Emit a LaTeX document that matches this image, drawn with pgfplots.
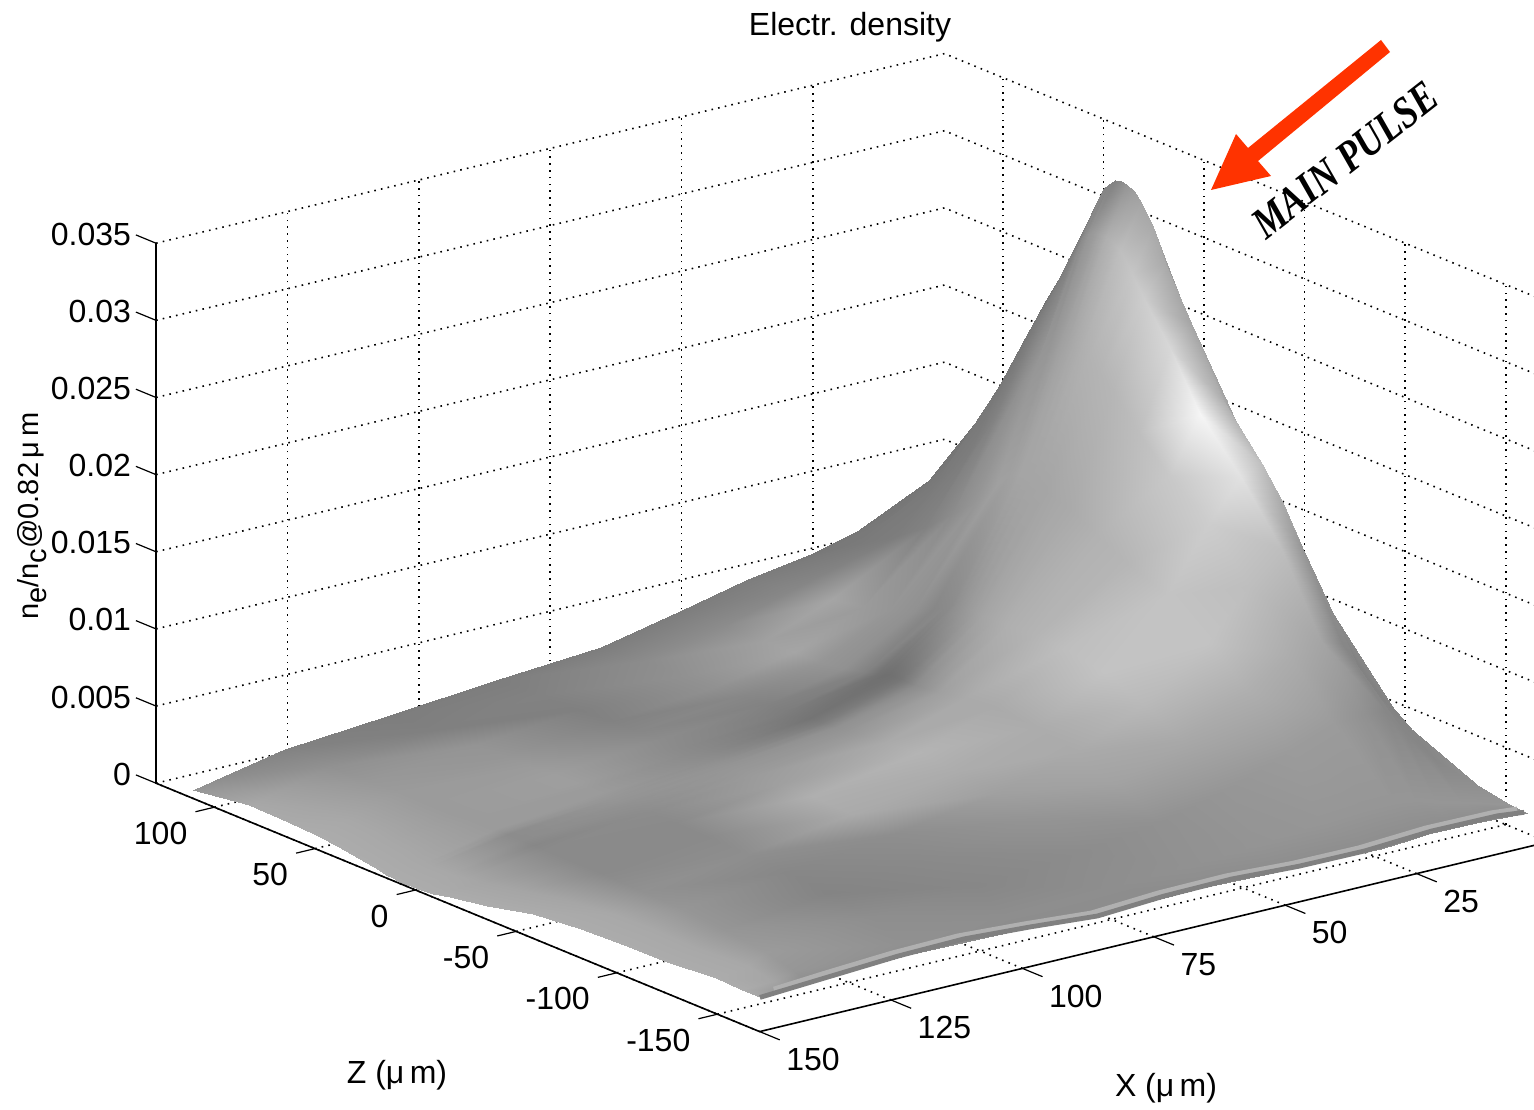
\documentclass[border=0pt]{standalone}
\usepackage{pgfplots}
\pgfplotsset{compat=1.18}
\usepackage{fontspec}
\setmainfont{Liberation Sans}
\newfontfamily\timesbi[BoldItalicFont={Liberation Serif Bold Italic}]{Liberation Serif}
\definecolor{rimdark}{gray}{0.50}
\definecolor{rimlight}{gray}{0.69}
\definecolor{pulse}{HTML}{FF3300}
\newcommand{\lbl}{\fontsize{16}{18}\selectfont}
\begin{document}
\begin{tikzpicture}
\path[use as bounding box,clip] (0,0) rectangle (767pt,554.5pt);
\begin{axis}[
  at={(602pt,204.3pt)},anchor=origin,
  y={(-2.628pt,-0.632pt)},x={(-1.006pt,0.414pt)},z={(0pt,7714pt)},
  ymin=0,ymax=150,xmin=-171,xmax=129,zmin=0,zmax=0.035,
  clip=false,
  axis line style={draw=none},
  grid=major,
  grid style={black,line width=0.8pt,dash pattern=on 0.8pt off 2.6pt},
  ytick={25,50,75,100,125,150},
  xtick={-150,-100,-50,0,50,100},
  ztick={0,0.005,0.01,0.015,0.02,0.025,0.03,0.035},
  zticklabels={0,0.005,0.01,0.015,0.02,0.025,0.03,0.035},
  yticklabels={25,50,75,100,125,150},
  xticklabels={-150,-100,-50,0,50,100},
  scaled z ticks=false,
  tick pos=lower,
  tick align=outside,
  major tick length=0pt,
  tick style={draw=none},
  /pgf/number format/assume math mode=true,
  tick label style={font=\lbl},
  xticklabel style={anchor=east,yshift=-13pt,xshift=-10pt},
  yticklabel style={anchor=west,yshift=-13.8pt,xshift=9.8pt},
  zticklabel style={anchor=east,yshift=4.5pt,xshift=-9pt},
  colormap={gs}{gray(0cm)=(0); gray(1cm)=(1)},
  point meta min=0,point meta max=255,
]
\addplot3[surf,shader=interp,z buffer=none,mesh/rows=24,mesh/cols=15,point meta=explicit]
 table[row sep=\\,x index=1,y index=0,z index=2,meta index=3]{
-6 117 0.0055 120\\3 117 0.0065 120\\8 117 0.0070 118\\12 117 0.0072 115\\16 117 0.0070 115\\22 117 0.0063 118\\30 117 0.0057 120\\42 117 0.0050 125\\55 117 0.0040 125\\70 117 0.0029 125\\90 117 0.0024 125\\110 117 0.0018 125\\130 117 0.0012 130\\141.6 117 0.0004 140\\147.6 117 0 150\\
-6 95 0.0065 140\\3 95 0.0090 150\\8 95 0.0105 130\\12 95 0.0113 115\\16 95 0.0105 118\\22 95 0.0090 120\\30 95 0.0075 122\\42 95 0.0055 135\\55 95 0.0042 140\\70 95 0.0032 140\\90 95 0.0026 130\\110 95 0.0020 128\\130 95 0.0013 145\\139.3 95 0.0005 160\\145.3 95 0 168\\
-6 75 0.0080 150\\3 75 0.0130 160\\8 75 0.0153 135\\12 75 0.0162 115\\16 75 0.0140 120\\22 75 0.0120 122\\30 75 0.0090 125\\42 75 0.0060 165\\55 75 0.0043 160\\70 75 0.0033 145\\90 75 0.0027 128\\110 75 0.0021 148\\130 75 0.0014 152\\139.6 75 0.0005 165\\145.6 75 0 170\\
-6 60 0.0095 160\\3 60 0.0150 165\\8 60 0.0188 150\\12 60 0.0206 115\\16 60 0.0185 120\\22 60 0.0145 125\\30 60 0.0105 130\\42 60 0.0063 155\\55 60 0.0044 165\\70 60 0.0034 145\\90 60 0.0028 130\\110 60 0.0022 150\\130 60 0.0015 155\\140 60 0.0005 168\\146 60 0 172\\
-6 47 0.0110 165\\3 47 0.0180 170\\8 47 0.0225 160\\12 47 0.0244 115\\16 47 0.0223 120\\22 47 0.0175 130\\30 47 0.0120 140\\42 47 0.0068 150\\55 47 0.0045 150\\70 47 0.0035 135\\90 47 0.0029 135\\110 47 0.0022 155\\130 47 0.0015 155\\140.5 47 0.0005 168\\146.5 47 0 172\\
-6 35 0.0125 170\\3 35 0.0215 175\\8 35 0.0260 170\\12 35 0.0278 120\\16 35 0.0255 125\\22 35 0.0200 145\\30 35 0.0135 150\\42 35 0.0073 145\\55 35 0.0047 145\\70 35 0.0036 130\\90 35 0.0030 140\\110 35 0.0023 158\\130 35 0.0015 155\\141.5 35 0.0005 168\\147.5 35 0 172\\
-6 25 0.0140 170\\3 25 0.0245 180\\8 25 0.0293 165\\12 25 0.0312 125\\16 25 0.0285 128\\22 25 0.0225 150\\30 25 0.0150 160\\42 25 0.0080 135\\55 25 0.0050 130\\70 25 0.0037 125\\90 25 0.0030 138\\110 25 0.0023 158\\130 25 0.0016 155\\142.3 25 0.0005 168\\148.3 25 0 172\\
-6 19 0.0150 170\\3 19 0.0260 185\\8 19 0.0310 150\\12 19 0.0331 135\\16 19 0.0302 140\\22 19 0.0238 150\\30 19 0.0160 160\\42 19 0.0085 138\\55 19 0.0052 115\\70 19 0.0038 120\\90 19 0.0030 138\\110 19 0.0023 155\\130 19 0.0016 155\\143 19 0.0005 168\\149 19 0 172\\
-6 16 0.0152 175\\3 16 0.0265 187\\8 16 0.0316 152\\12 16 0.0336 132\\16 16 0.0306 150\\22 16 0.0241 155\\30 16 0.0162 162\\42 16 0.0087 140\\55 16 0.0053 112\\70 16 0.0038 118\\90 16 0.0030 139\\110 16 0.0023 155\\130 16 0.0016 155\\143.2 16 0.0005 168\\149.2 16 0 172\\
-6 13 0.0155 180\\3 13 0.0270 190\\8 13 0.0323 155\\12 13 0.0340 130\\16 13 0.0310 155\\22 13 0.0245 160\\30 13 0.0165 165\\42 13 0.0090 145\\55 13 0.0055 112\\70 13 0.0039 116\\90 13 0.0030 140\\110 13 0.0023 155\\130 13 0.0016 155\\143.4 13 0.0005 168\\149.4 13 0 172\\
-6 10 0.0155 180\\3 10 0.0270 190\\8 10 0.0320 158\\12 10 0.0341 138\\16 10 0.0310 165\\22 10 0.0245 165\\30 10 0.0165 165\\42 10 0.0090 150\\55 10 0.0055 114\\70 10 0.0039 120\\90 10 0.0030 142\\110 10 0.0023 152\\130 10 0.0016 148\\143.5 10 0.0005 168\\149.5 10 0 172\\
-6 7 0.0155 180\\3 7 0.0270 190\\8 7 0.0316 160\\12 7 0.0340 150\\16 7 0.0310 175\\22 7 0.0245 170\\30 7 0.0165 165\\42 7 0.0090 155\\55 7 0.0055 118\\70 7 0.0039 126\\90 7 0.0030 145\\110 7 0.0023 150\\130 7 0.0016 140\\143.5 7 0.0005 168\\149.5 7 0 172\\
-6 3.5 0.0152 180\\3 3.5 0.0260 180\\8 3.5 0.0307 155\\12 3.5 0.0338 158\\16 3.5 0.0308 182\\22 3.5 0.0243 175\\30 3.5 0.0163 165\\42 3.5 0.0090 160\\55 3.5 0.0055 128\\70 3.5 0.0040 134\\90 3.5 0.0030 148\\110 3.5 0.0023 148\\130 3.5 0.0016 140\\143.5 3.5 0.0005 168\\149.5 3.5 0 172\\
-6 0 0.0150 180\\3 0 0.0250 170\\8 0 0.0298 150\\12 0 0.0333 165\\16 0 0.0305 190\\22 0 0.0240 178\\30 0 0.0160 165\\42 0 0.0090 165\\55 0 0.0055 140\\70 0 0.0040 145\\90 0 0.0030 150\\110 0 0.0023 145\\130 0 0.0016 140\\143.5 0 0.0005 168\\149.5 0 0 172\\
-6 -6 0.0148 165\\3 -6 0.0233 160\\8 -6 0.0280 145\\12 -6 0.0320 170\\16 -6 0.0293 198\\22 -6 0.0233 180\\30 -6 0.0158 168\\42 -6 0.0090 170\\55 -6 0.0056 150\\70 -6 0.0041 150\\90 -6 0.0031 152\\110 -6 0.0023 142\\130 -6 0.0016 135\\143 -6 0.0005 167\\149 -6 0 172\\
-6 -12 0.0145 150\\3 -12 0.0215 150\\8 -12 0.0263 140\\12 -12 0.0300 170\\16 -12 0.0280 205\\22 -12 0.0225 182\\30 -12 0.0155 170\\42 -12 0.0090 175\\55 -12 0.0057 160\\70 -12 0.0042 155\\90 -12 0.0032 155\\110 -12 0.0024 140\\130 -12 0.0016 138\\142 -12 0.0005 165\\148 -12 0 172\\
-6 -25 0.0125 130\\3 -25 0.0190 150\\8 -25 0.0228 150\\12 -25 0.0268 165\\16 -25 0.0255 215\\22 -25 0.0205 190\\30 -25 0.0145 178\\42 -25 0.0090 180\\55 -25 0.0060 170\\70 -25 0.0044 170\\90 -25 0.0033 160\\110 -25 0.0024 138\\130 -25 0.0016 138\\140 -25 0.0005 165\\146 -25 0 172\\
-6 -40 0.0085 130\\3 -40 0.0165 130\\8 -40 0.0200 160\\12 -40 0.0228 175\\16 -40 0.0220 245\\22 -40 0.0185 200\\30 -40 0.0135 182\\42 -40 0.0090 190\\55 -40 0.0062 170\\70 -40 0.0045 180\\90 -40 0.0033 175\\110 -40 0.0024 138\\130 -40 0.0016 138\\137 -40 0.0005 165\\143 -40 0 172\\
-6 -60 0.0048 125\\3 -60 0.0115 140\\8 -60 0.0167 170\\12 -60 0.0195 190\\16 -60 0.0190 225\\22 -60 0.0165 205\\30 -60 0.0125 195\\42 -60 0.0085 195\\55 -60 0.0060 172\\70 -60 0.0044 172\\90 -60 0.0032 170\\110 -60 0.0023 142\\130 -60 0.0015 145\\135.5 -60 0.0005 168\\141.5 -60 0 172\\
-6 -80 0.0029 132\\3 -80 0.0074 128\\8 -80 0.0108 130\\12 -80 0.0152 150\\16 -80 0.0155 190\\22 -80 0.0135 190\\30 -80 0.0105 195\\42 -80 0.0075 185\\55 -80 0.0055 170\\70 -80 0.0040 160\\90 -80 0.0030 142\\110 -80 0.0022 135\\130 -80 0.0014 150\\135 -80 0.0005 168\\141 -80 0 172\\
-6 -100 0.0011 135\\3 -100 0.0050 130\\8 -100 0.0075 130\\12 -100 0.0100 135\\16 -100 0.0105 165\\22 -100 0.0100 172\\30 -100 0.0085 175\\42 -100 0.0062 168\\55 -100 0.0045 162\\70 -100 0.0034 148\\90 -100 0.0026 138\\110 -100 0.0019 132\\130 -100 0.0012 150\\135 -100 0.0004 168\\141 -100 0 172\\
-6 -122 0.0004 145\\3 -122 0.0030 135\\8 -122 0.0048 135\\12 -122 0.0068 135\\16 -122 0.0070 145\\22 -122 0.0068 155\\30 -122 0.0058 155\\42 -122 0.0043 150\\55 -122 0.0032 145\\70 -122 0.0025 140\\90 -122 0.0019 135\\110 -122 0.0015 142\\130 -122 0.0009 155\\133.5 -122 0.0003 168\\139.5 -122 0 172\\
-6 -136 0.0001 150\\3 -136 0.0009 150\\8 -136 0.0014 150\\12 -136 0.0018 150\\16 -136 0.0020 150\\22 -136 0.0020 150\\30 -136 0.0018 150\\42 -136 0.0014 148\\55 -136 0.0011 145\\70 -136 0.0009 142\\90 -136 0.0007 142\\110 -136 0.0005 145\\130 -136 0.0004 150\\134 -136 0.0001 165\\140 -136 0 172\\
-6 -145 0 140\\3 -143 0 140\\8 -143 0 140\\12 -142.5 0 140\\16 -144 0 140\\22 -145.4 0 140\\30 -145 0 140\\42 -144 0 140\\55 -142.7 0 140\\70 -144 0 140\\90 -141 0 140\\110 -140 0 140\\130 -143 0 140\\134 -144.5 0 150\\140 -146 0 165\\
};
\addplot3[rimlight,line width=2.8pt,no marks] coordinates {
(-141.5,136,0)(-138.7,125.3,0)(-135.7,111.4,0)(-134.7,98.4,0)(-137.7,87,0)(-141.7,75.7,0)(-138.7,61.8,0)(-138.1,48.8,0)(-140.7,37,0)(-141.1,24.6,0)(-138.2,10.8,0)(-138.7,-1.6,0)(-140.5,-5.8,0)};
\addplot3[rimdark,line width=2.4pt,no marks] coordinates {
(-145,140,0)(-141.8,125.3,0)(-138.8,111.4,0)(-137.8,98.4,0)(-140.8,87,0)(-144.8,75.7,0)(-141.8,61.8,0)(-141.2,48.8,0)(-143.8,37,0)(-144.2,24.6,0)(-141.3,10.8,0)(-141.8,-1.6,0)(-144,-5.8,0)};
\addplot3[black,line width=0.8pt,no marks] coordinates {(129,150,0.035)(129,150,0)(-171,150,0)(-171,0,0)};
\pgfplotsinvokeforeach{-150,-100,-50,0,50,100}{\draw[black,line width=0.6pt] (axis cs:#1,150,0)--(axis cs:#1,153.6,0);}
\pgfplotsinvokeforeach{25,50,75,100,125,150}{\draw[black,line width=0.6pt] (axis cs:-171,#1,0)--(axis cs:-181,#1,0);}
\pgfplotsinvokeforeach{0,0.005,0.01,0.015,0.02,0.025,0.03,0.035}{\draw[black,line width=0.6pt] (axis cs:129,150,#1)--(axis cs:139,150,#1);}
\end{axis}
\node[font=\lbl] at (425pt,541pt) {Electr. density};
\node[font=\lbl] at (198.5pt,17pt) {Z (μ\,m)};
\node[font=\lbl] at (583pt,10.5pt) {X (μ\,m)};
\node[font=\fontsize{14.5}{17}\selectfont,rotate=90] at (16pt,296.5pt) {n\raisebox{-4pt}{e}/n\raisebox{-4pt}{c}@0.82\,μ\,m};
\fill[pulse] (690.5pt,534.5pt)--(695pt,528.5pt)--(629pt,474pt)--(635.5pt,466.5pt)--(605.5pt,459.5pt)--(618pt,487.5pt)--(624pt,480.5pt)--cycle;
\node[rotate=38,font=\fontsize{19.3}{22}\selectfont\bfseries\itshape\timesbi] at (672.5pt,474.5pt) {\scalebox{0.95}[1.15]{MAIN PULSE}};
\end{tikzpicture}
\end{document}
